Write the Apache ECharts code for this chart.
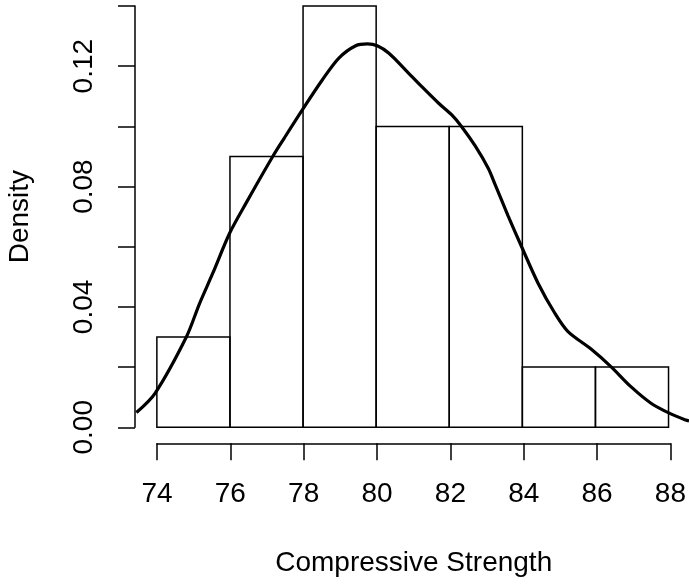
<!DOCTYPE html>
<html>
<head>
<meta charset="utf-8">
<script src="https://cdn.jsdelivr.net/npm/echarts@6/dist/echarts.min.js"></script>
<style>html,body{margin:0;padding:0;background:#fff;}#c{width:689px;height:584px;}</style>
</head>
<body>
<div id="c"></div>
<script>
// Histogram bins (break edges) and densities
var binStarts = [74, 76, 78, 80, 82, 84, 86];
var binEnds   = [76, 78, 80, 82, 84, 86, 88];
var binDensity = [0.03, 0.09, 0.14, 0.10, 0.10, 0.02, 0.02];

// Kernel density curve
var curveX = [73.44, 73.95, 74.81, 75.17, 75.53, 75.99, 76.44, 77.17, 77.49, 77.98, 78.53, 78.98, 79.44, 79.76, 80.03, 80.35, 80.80, 81.25, 81.71, 82.07, 82.34, 82.71, 83.07, 83.25, 83.61, 83.98, 84.43, 84.89, 85.25, 85.88, 86.43, 86.97, 87.52, 88.02, 88.47, 88.56];
var curveY = [0.0049, 0.0113, 0.0301, 0.0412, 0.0512, 0.0645, 0.0745, 0.0900, 0.0962, 0.1055, 0.1155, 0.1227, 0.1268, 0.1274, 0.1268, 0.1243, 0.1188, 0.1132, 0.1077, 0.1038, 0.0999, 0.0935, 0.0860, 0.0808, 0.0703, 0.0600, 0.0479, 0.0379, 0.0318, 0.0260, 0.0201, 0.0135, 0.0080, 0.0047, 0.0024, 0.0021];

// Axis ticks
var xTicks = ['74', '76', '78', '80', '82', '84', '86', '88'];
var yLabels = ['0.00', '0.04', '0.08', '0.12'];

var FONT = 'Liberation Sans, Arial, Helvetica, sans-serif';
var FS = 28;

var histData = binStarts.map(function (s, i) { return [s, binEnds[i], binDensity[i]]; });
var curveData = curveX.map(function (x, i) { return [x, curveY[i]]; });

var chart = echarts.init(document.getElementById('c'), null, {renderer: 'canvas'});
chart.setOption({
  animation: false,
  backgroundColor: '#fff',
  grid: [
    {left: 136.4, top: 0, width: 555.2, height: 444.15},
    {left: 157, top: 0, width: 514, height: 443.3},
    {left: 135, top: 6, width: 10, height: 421.3}
  ],
  xAxis: [
    {gridIndex: 0, type: 'value', min: 73.44, max: 88.56, show: false},
    {gridIndex: 1, type: 'value', min: 74, max: 88, interval: 2,
      axisLine: {show: true, lineStyle: {color: '#000', width: 1.5}},
      axisTick: {show: true, length: 17, lineStyle: {color: '#000', width: 1.5}},
      axisLabel: {show: true, margin: 37, color: '#000', fontSize: FS, fontFamily: FONT,
        formatter: function (v) { var s = String(Math.round(v)); return xTicks.indexOf(s) >= 0 ? s : ''; }},
      splitLine: {show: false},
      name: 'Compressive Strength', nameLocation: 'middle', nameGap: 106,
      nameTextStyle: {color: '#000', fontSize: FS, fontFamily: FONT}
    },
    {gridIndex: 2, type: 'value', show: false}
  ],
  yAxis: [
    {gridIndex: 0, type: 'value', min: -0.0056, max: 0.14201, show: false},
    {gridIndex: 1, type: 'value', show: false},
    {gridIndex: 2, type: 'value', min: 0, max: 0.14, interval: 0.02,
      axisLine: {show: true, lineStyle: {color: '#000', width: 1.5}},
      axisTick: {show: true, length: 17, lineStyle: {color: '#000', width: 1.5}},
      axisLabel: {show: true, rotate: 90, margin: 37, color: '#000', fontSize: FS, fontFamily: FONT,
        formatter: function (v) { var s = v.toFixed(2); return yLabels.indexOf(s) >= 0 ? s : ''; }},
      splitLine: {show: false},
      name: 'Density', nameLocation: 'middle', nameGap: 101,
      nameTextStyle: {color: '#000', fontSize: FS, fontFamily: FONT}
    }
  ],
  series: [
    {
      type: 'custom', xAxisIndex: 0, yAxisIndex: 0, data: histData, z: 2, clip: false,
      renderItem: function (params, api) {
        var p0 = api.coord([api.value(0), api.value(2)]);
        var p1 = api.coord([api.value(1), 0]);
        return {
          type: 'rect',
          shape: {x: p0[0], y: p0[1], width: p1[0] - p0[0], height: p1[1] - p0[1]},
          style: {fill: 'rgba(0,0,0,0)', stroke: '#000', lineWidth: 1.5}
        };
      }
    },
    {
      type: 'line', xAxisIndex: 0, yAxisIndex: 0, data: curveData, z: 3,
      smooth: 0.3, showSymbol: false, clip: true,
      lineStyle: {color: '#000', width: 3.2}
    }
  ]
});
</script>
</body>
</html>
